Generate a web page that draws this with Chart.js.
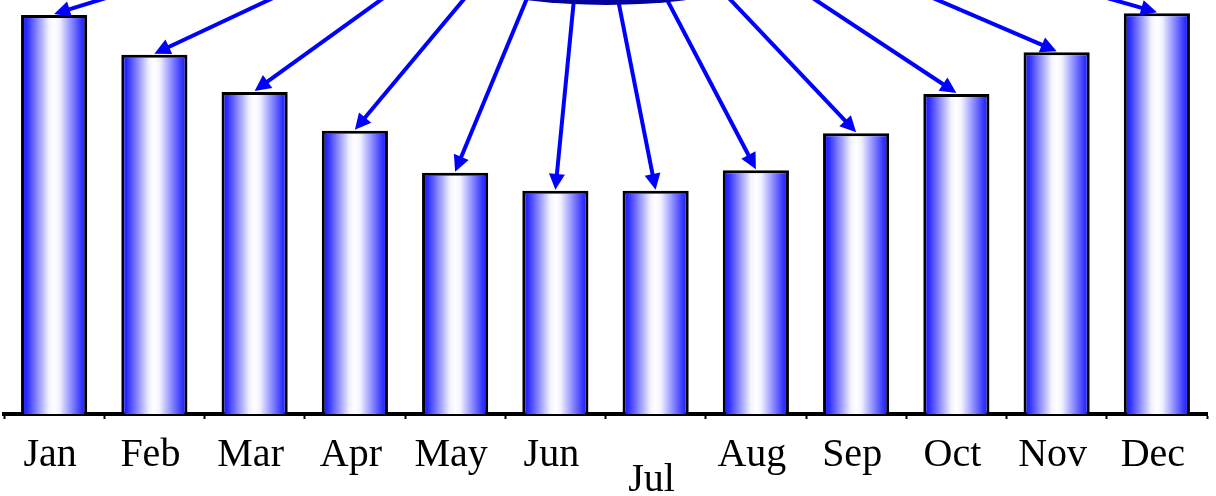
<!DOCTYPE html>
<html>
<head>
<meta charset="utf-8">
<script src="https://cdn.jsdelivr.net/npm/chart.js@4.4.1/dist/chart.umd.min.js"></script>
<style>
  html, body { margin: 0; padding: 0; background: #fff; }
  #wrap { width: 1216px; height: 496px; }
</style>
</head>
<body>
<div id="wrap"><canvas id="chart"></canvas></div>
<script>
// month labels and bar heights (% of plot height)
const months = ["Jan", "Feb", "Mar", "Apr", "May", "Jun", "Jul", "Aug", "Sep", "Oct", "Nov", "Dec"];
const values = [96.4, 86.8, 77.8, 68.4, 58.3, 53.9, 53.9, 58.9, 67.8, 77.3, 87.4, 96.8];

const BLUE = '#1f1fff';

// gradient across each bar: blue edges, white middle
function barFill(c) {
  const xs = c.chart.scales.x;
  if (!xs || c.dataIndex === undefined) return BLUE;
  const cx = xs.getPixelForValue(c.dataIndex);
  const w = xs.width / months.length * 0.66;
  if (!isFinite(cx) || !isFinite(w) || w <= 0) return BLUE;
  const g = c.chart.ctx.createLinearGradient(cx - w / 2, 0, cx + w / 2, 0);
  g.addColorStop(0, '#1818ff');
  g.addColorStop(0.08, '#2828ff');
  g.addColorStop(0.42, '#f2f2ff');
  g.addColorStop(0.5, '#ffffff');
  g.addColorStop(0.58, '#f2f2ff');
  g.addColorStop(0.92, '#3030ff');
  g.addColorStop(1, '#2020ff');
  return g;
}

// rays from the big ellipse at the top down to every bar
const sunArrows = {
  id: 'sunArrows',
  afterDatasetsDraw(chart) {
    const ctx = chart.ctx;
    const area = chart.chartArea;
    const mid = (area.left + area.right) / 2;
    const ox = mid - 17, oy = area.top - 150;
    const meta = chart.getDatasetMeta(0);
    ctx.save();
    ctx.strokeStyle = '#0000ff';
    ctx.fillStyle = '#0000ff';
    ctx.lineWidth = 4;
    meta.data.forEach(bar => {
      const tx = bar.x, ty = bar.y - 1;
      const a = Math.atan2(ty - oy, tx - ox);
      const hl = 16, hw = 8;
      const bx = tx - hl * Math.cos(a), by = ty - hl * Math.sin(a);
      ctx.beginPath();
      ctx.moveTo(ox, oy);
      ctx.lineTo(bx + 2 * Math.cos(a), by + 2 * Math.sin(a));
      ctx.stroke();
      ctx.beginPath();
      ctx.moveTo(tx, ty);
      ctx.lineTo(bx + hw * Math.sin(a), by - hw * Math.cos(a));
      ctx.lineTo(bx - hw * Math.sin(a), by + hw * Math.cos(a));
      ctx.closePath();
      ctx.fill();
    });
    // the ellipse, only its lower rim is on screen
    const ey = area.top - 55;
    const g = ctx.createLinearGradient(0, ey, 0, ey + 60);
    g.addColorStop(0, '#2020d0');
    g.addColorStop(1, '#00009a');
    ctx.beginPath();
    ctx.ellipse(mid + 1, ey, 200, 60, 0, 0, Math.PI * 2);
    ctx.fillStyle = g;
    ctx.fill();
    ctx.restore();
  }
};

new Chart(document.getElementById('chart'), {
  type: 'bar',
  data: {
    labels: months,
    datasets: [{
      data: values,
      backgroundColor: barFill,
      borderColor: '#000',
      borderWidth: 3,
      barPercentage: 0.66,
      categoryPercentage: 1
    }]
  },
  options: {
    responsive: true,
    maintainAspectRatio: false,
    animation: false,
    layout: { padding: { left: 4, right: 9, top: 0, bottom: 0 } },
    plugins: { legend: { display: false }, tooltip: { enabled: false } },
    scales: {
      y: { display: false, min: 0, max: 100 },
      x: {
        z: 1,
        afterFit(axis) { axis.height = 82; },
        border: { display: true, color: '#000', width: 4 },
        grid: { drawOnChartArea: false, drawTicks: true, tickLength: 5, tickWidth: 2, tickColor: '#000', offset: true },
        ticks: {
          color: '#000',
          padding: 12,
          labelOffset: -4,
          autoSkip: false,
          maxRotation: 0,
          // Jul sits lower than the others
          font: (c) => ({ family: 'Liberation Serif', size: 40, lineHeight: c.index === 6 ? 2.45 : 1.2 })
        }
      }
    }
  },
  plugins: [sunArrows]
});
</script>
</body>
</html>
